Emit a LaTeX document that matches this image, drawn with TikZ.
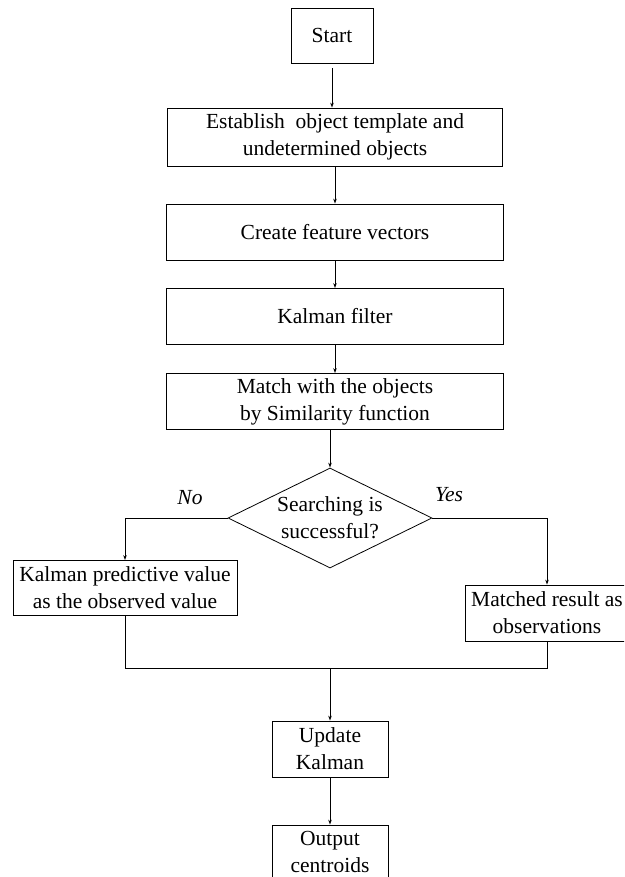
\documentclass[tikz,border=0pt]{standalone}
\usepackage{fontspec}
\setmainfont{Liberation Serif}
\usetikzlibrary{shapes.geometric,arrows.meta}
\begin{document}
\begin{tikzpicture}[x=1pt,y=-1pt,
  box/.style={draw,line width=0.8pt,align=center,inner sep=0pt,font=\fontsize{21.5}{27}\selectfont},
  dec/.style={draw,line width=0.8pt,diamond,aspect=2.05,inner sep=0pt,align=center,font=\fontsize{21.5}{27}\selectfont,minimum width=204pt,minimum height=100pt},
  lab/.style={font=\fontsize{21.5}{27}\selectfont\itshape},
  arr/.style={line width=0.8pt,-{Stealth[length=5pt,width=3.5pt]}},
  ln/.style={line width=0.8pt}]
\useasboundingbox (0,0) rectangle (624,877);
\begin{scope}
\clip (0,0) rectangle (624,877);
\node[box,minimum width=82pt,minimum height=55pt] (start) at (332,35.5) {Start};
\node[box,minimum width=335pt,minimum height=58pt] (est) at (335,137) {Establish\ \ object template and\\undetermined objects};
\node[box,minimum width=337pt,minimum height=56pt] (cre) at (335,232) {Create feature vectors};
\node[box,minimum width=337pt,minimum height=56pt] (kal) at (335,316.5) {Kalman filter};
\node[box,minimum width=337pt,minimum height=56pt] (mat) at (335,401.5) {Match with the objects\\by Similarity function};
\node[dec] (dia) at (330,518) {Searching is\\successful?};
\node[box,minimum width=224pt,minimum height=55pt] (kpv) at (125,588) {Kalman predictive value\\as the observed value};
\node[box,minimum width=164pt,minimum height=56pt] (mra) at (547,613) {Matched result as\\observations};
\node[box,minimum width=116pt,minimum height=56pt] (upd) at (330,749) {Update\\Kalman};
\node[box,minimum width=116pt,minimum height=54pt] (out) at (330,852) {Output\\centroids};
\node[lab] (no) at (190,498) {No};
\node[lab] (yes) at (449,495) {Yes};
\coordinate (jn) at (330,668.5);
\draw[arr] ([yshift=-5pt]start.south) -- (start.south |- est.north);
\draw[arr] (est.south) -- (cre.north);
\draw[arr] (cre.south) -- (kal.north);
\draw[arr] (kal.south) -- (mat.north);
\draw[arr] (mat.south -| dia.north) -- (dia.north);
\draw[arr] (dia.west) -| (kpv.north);
\draw[arr] (dia.east) -| (mra.north);
\draw[ln] (kpv.south) |- (jn) -| (mra.south);
\draw[arr] (jn) -- (upd.north);
\draw[arr] (upd.south) -- (out.north);
\end{scope}
\end{tikzpicture}
\end{document}
